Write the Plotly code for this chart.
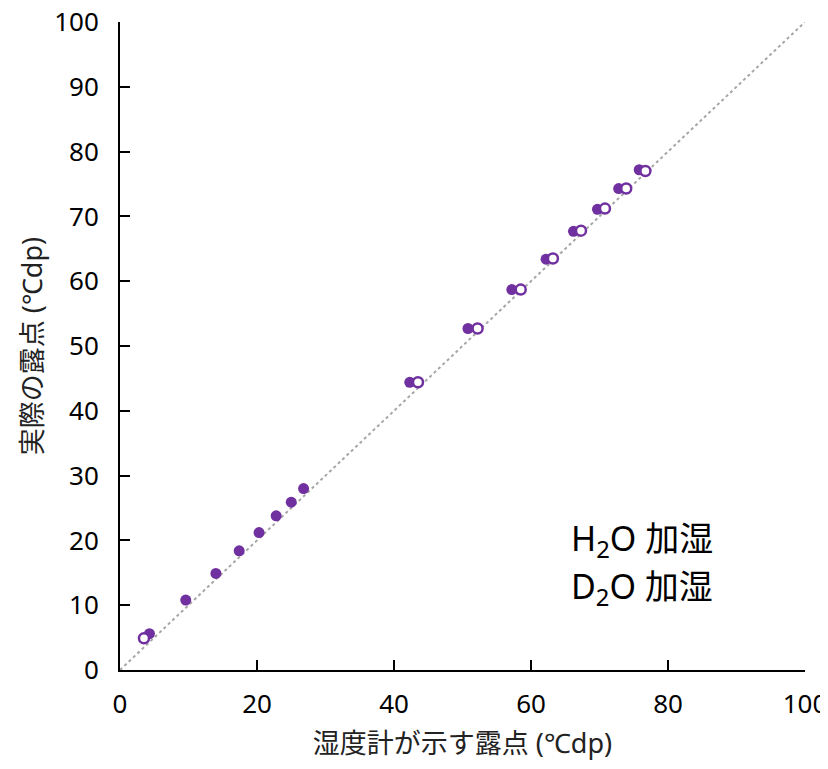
import plotly.graph_objects as go

# H2O humidification (filled markers)
h2o_x = [4.3, 9.6, 14.0, 17.4, 20.3, 22.8, 25.0, 26.8, 42.3, 50.8, 57.2, 62.2, 66.2, 69.7, 72.8, 75.8]
h2o_y = [5.6, 10.8, 14.9, 18.4, 21.2, 23.8, 25.9, 28.0, 44.4, 52.7, 58.7, 63.4, 67.7, 71.1, 74.3, 77.2]

# D2O humidification (open markers)
d2o_x = [3.5, 43.5, 52.2, 58.5, 63.2, 67.3, 70.8, 73.9, 76.7]
d2o_y = [4.9, 44.4, 52.7, 58.7, 63.5, 67.8, 71.2, 74.3, 77.0]

# 1:1 reference line
ref_x = [0, 100]
ref_y = [0, 100]

tick_vals = [0, 10, 20, 30, 40, 50, 60, 70, 80, 90, 100]
x_tick_vals = [0, 20, 40, 60, 80, 100]

x_title = "湿度計が示す露点 (℃dp)"
y_title = "実際の露点 (℃dp)"
legend_labels = ["H<sub>2</sub>O 加湿", "D<sub>2</sub>O 加湿"]

purple = "#7030A0"
FONT = "Noto Sans, Noto Sans CJK JP, sans-serif"

fig = go.Figure()
fig.add_trace(go.Scatter(x=ref_x, y=ref_y, mode="lines",
                         line=dict(color="#A6A6A6", width=2, dash="dot"),
                         showlegend=False, hoverinfo="skip"))
fig.add_trace(go.Scatter(x=h2o_x, y=h2o_y, mode="markers", name="H2O 加湿",
                         marker=dict(size=11, color=purple, line=dict(width=0)),
                         showlegend=False))
fig.add_trace(go.Scatter(x=d2o_x, y=d2o_y, mode="markers", name="D2O 加湿",
                         marker=dict(size=10, color="white", line=dict(width=2.5, color=purple)),
                         showlegend=False))

axis_common = dict(
    showgrid=False, zeroline=False, showline=True, linecolor="black", linewidth=2,
    ticks="inside", ticklen=10, tickwidth=2, tickcolor="black",
    tickfont=dict(family=FONT, size=26, color="black"),
    automargin=False, ticklabeloverflow="allow",
)

fig.update_layout(
    width=820, height=753,
    margin=dict(l=112, r=23, t=14, b=91),
    paper_bgcolor="white", plot_bgcolor="white",
    xaxis=dict(range=[0, 100], tickvals=x_tick_vals, ticklabelstandoff=10, **axis_common,
               title=dict(text=x_title, font=dict(family=FONT, size=27, color="#222"), standoff=20)),
    yaxis=dict(range=[0, 100], tickvals=tick_vals, ticklabelstandoff=14, **axis_common,
               title=dict(text=y_title, font=dict(family=FONT, size=27, color="#222"), standoff=4)),
    annotations=[
        dict(text=legend_labels[0], xref="paper", yref="paper", x=0.656, y=0.2006,
             xanchor="left", yanchor="middle", showarrow=False,
             font=dict(family=FONT, size=34, color="black")),
        dict(text=legend_labels[1], xref="paper", yref="paper", x=0.656, y=0.1265,
             xanchor="left", yanchor="middle", showarrow=False,
             font=dict(family=FONT, size=34, color="black")),
    ],
)

fig.write_html("out.html")
